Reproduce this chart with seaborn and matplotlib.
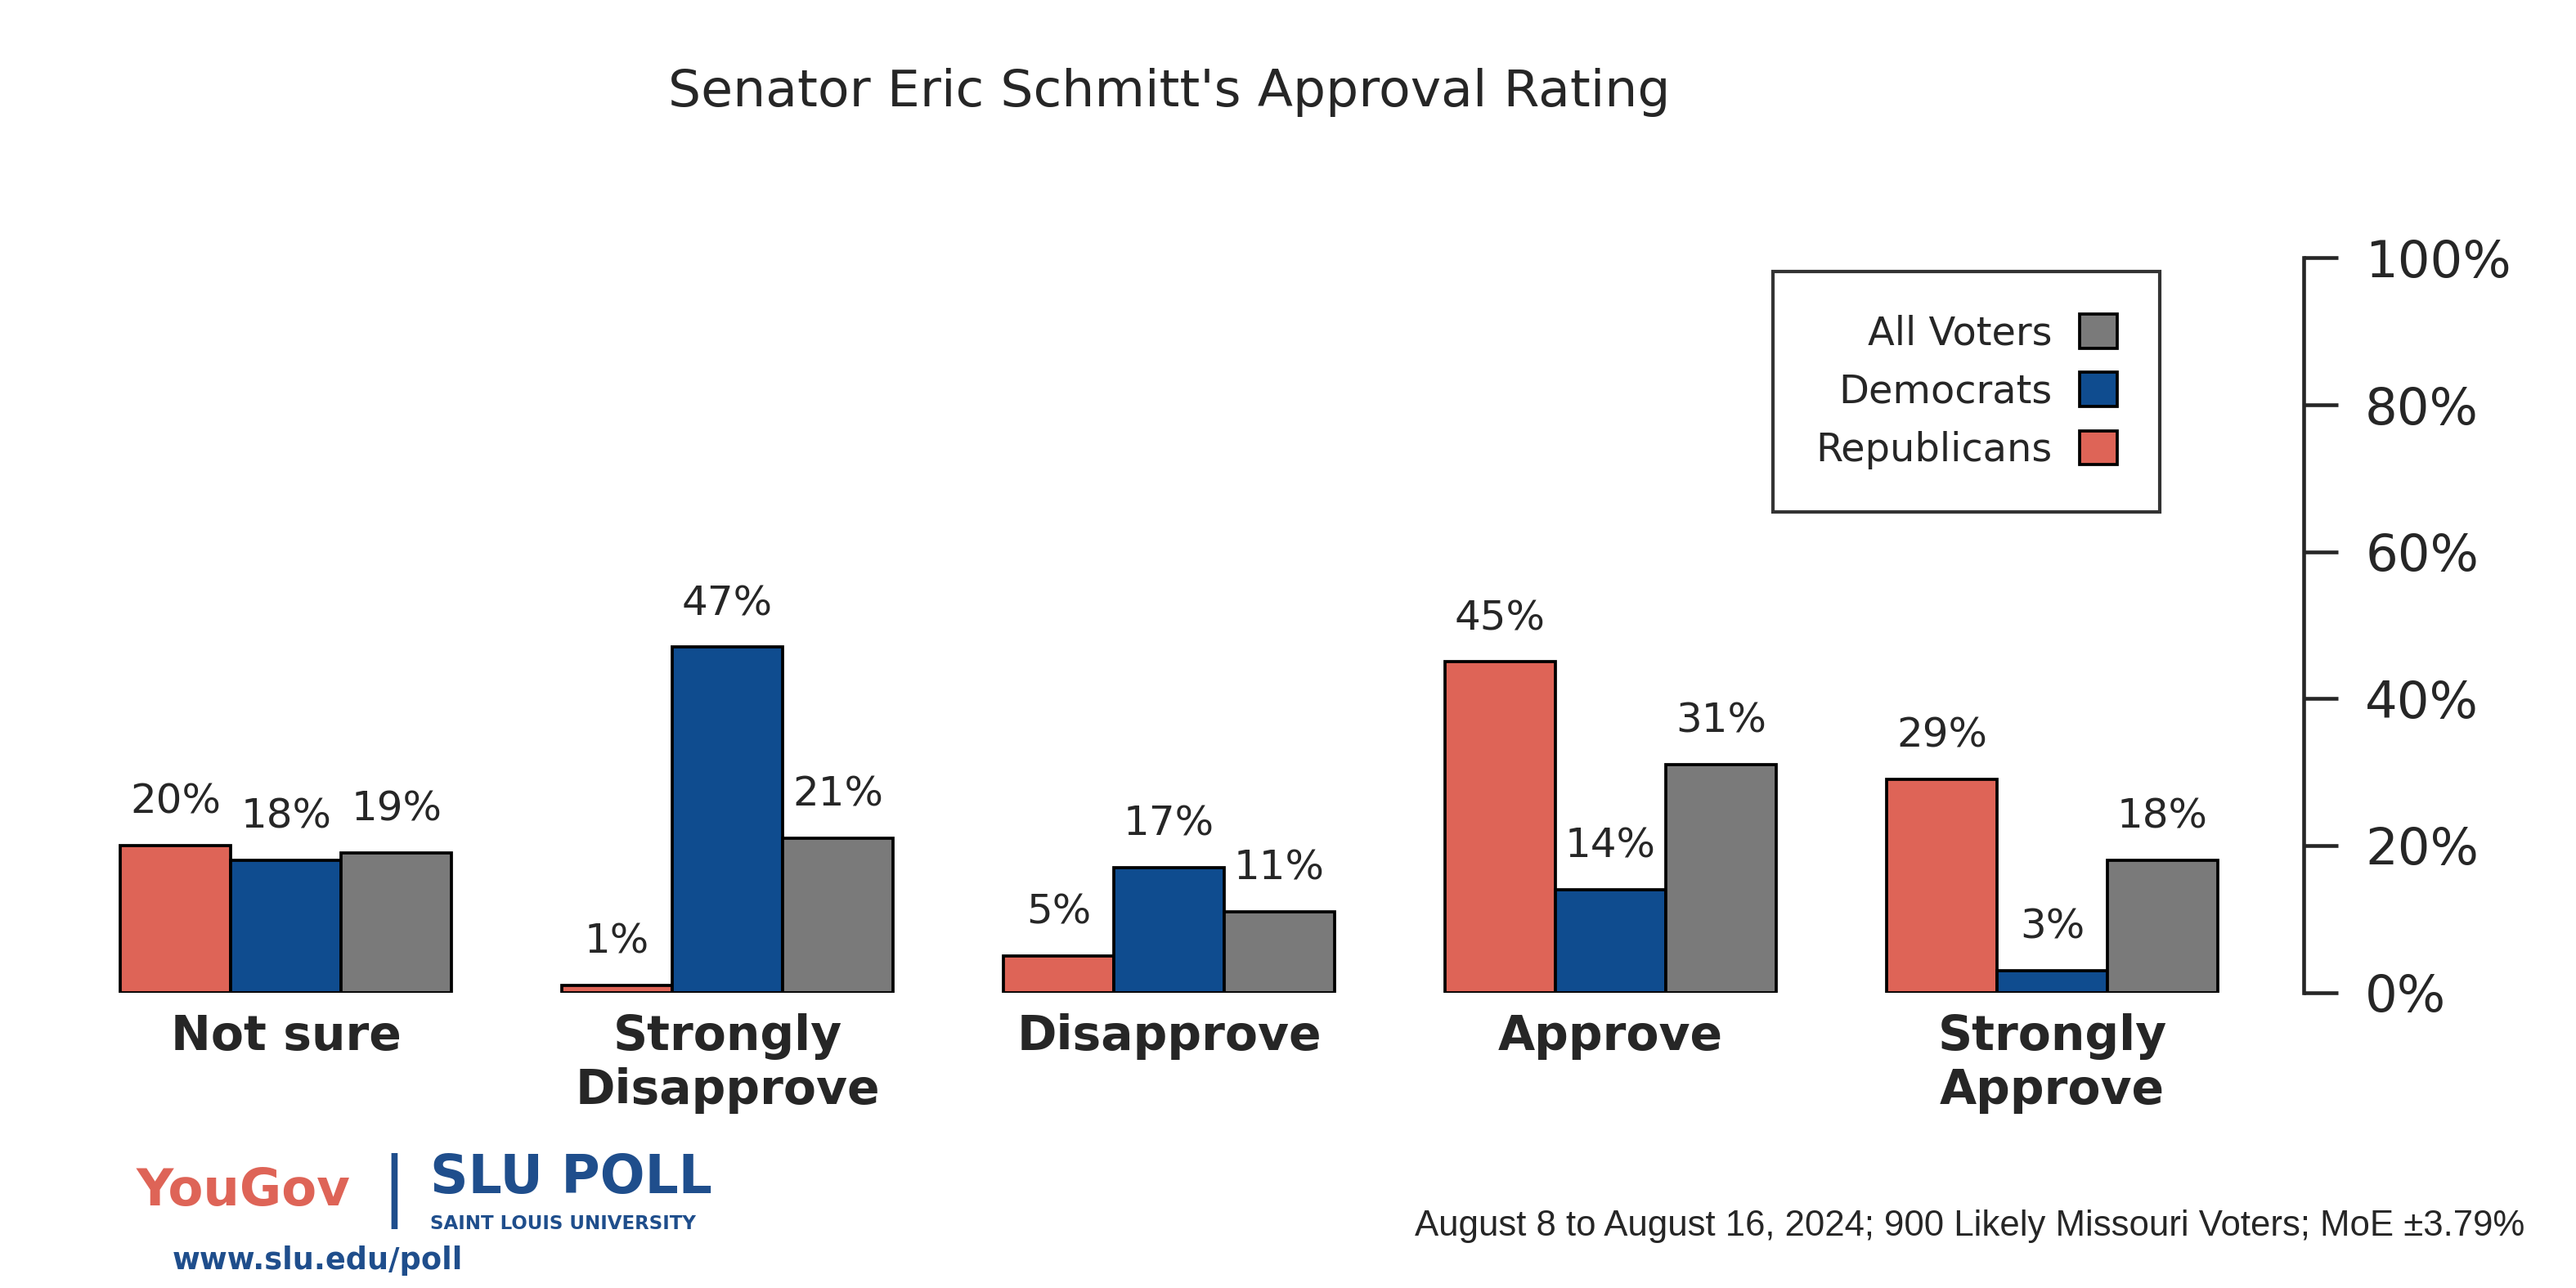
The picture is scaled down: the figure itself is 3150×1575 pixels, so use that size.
import pandas as pd
import matplotlib.pyplot as plt
import seaborn as sns

# categories as laid out left to right in the reference (mirrored layout)
categories = ["Not sure", "Strongly\nDisapprove", "Disapprove", "Approve", "Strongly\nApprove"]
groups = ["Republicans", "Democrats", "All Voters"]
republicans = [20, 1, 5, 45, 29]
democrats = [18, 47, 17, 14, 3]
all_voters = [19, 21, 11, 31, 18]
colors = {"Republicans": "#DE6457", "Democrats": "#0F4C8F", "All Voters": "#7A7A7A"}
y_ticks = [0, 20, 40, 60, 80, 100]

title = "Senator Eric Schmitt's Approval Rating"
footnote = "August 8 to August 16, 2024; 900 Likely Missouri Voters; MoE \u00b13.79%"

df = pd.DataFrame({
    "category": categories * 3,
    "group": ["Republicans"] * 5 + ["Democrats"] * 5 + ["All Voters"] * 5,
    "value": republicans + democrats + all_voters,
})

sns.set_style("white")
plt.rcParams["font.family"] = ["DejaVu Sans"]

fig = plt.figure(figsize=(10.5, 5.25), dpi=300)
ax = fig.add_axes([0.00816, 0.2295, 0.8862, 0.5702])

sns.barplot(data=df, x="category", y="value", hue="group", order=categories,
            hue_order=groups, palette=colors, width=0.75, edgecolor="black",
            linewidth=0.9, saturation=1, ax=ax, legend=False)

for cont, vals in zip(ax.containers, [republicans, democrats, all_voters]):
    ax.bar_label(cont, labels=[f"{v}%" for v in vals], padding=7, fontsize=12)

ax.set_xlim(-0.6, 4.57)
ax.set_ylim(0, 100)
ax.set_xlabel("")
ax.set_ylabel("")
ax.yaxis.tick_right()
ax.set_yticks(y_ticks)
ax.set_yticklabels([f"{t}%" for t in y_ticks], fontsize=15)
ax.tick_params(axis="y", length=10, width=1.1, pad=8, right=True, left=False)
ax.tick_params(axis="x", length=0, pad=6)
for lbl in ax.get_xticklabels():
    lbl.set_fontsize(14)
    lbl.set_fontweight("bold")
    lbl.set_verticalalignment("top")
for side in ["left", "top", "bottom"]:
    ax.spines[side].set_visible(False)
ax.spines["right"].set_linewidth(1.1)

# legend, entries listed top to bottom in reverse group order, markers on the right
handles = [plt.Rectangle((0, 0), 1, 1, facecolor=colors[g], edgecolor="black", linewidth=0.9)
           for g in reversed(groups)]
leg = ax.legend(handles, list(reversed(groups)), loc="upper right",
                bbox_to_anchor=(0.937, 0.982), markerfirst=False, frameon=True,
                fontsize=11.5, handlelength=0.95, handleheight=0.95, handletextpad=0.7,
                labelspacing=0.5, borderpad=1.1, borderaxespad=0, fancybox=False)
leg.get_frame().set_edgecolor("black")
leg.get_frame().set_linewidth(1.0)

fig.text(0.454, 0.928, title, ha="center", va="center", fontsize=15.2, fontweight="medium")
fig.text(0.980, 0.048, footnote, ha="right", va="center", fontsize=10.5,
         family="Liberation Sans")

# poll branding
fig.text(0.136, 0.075, "YouGov", ha="right", va="center", fontsize=15,
         color="#DE6457", fontweight="bold")
fig.text(0.153, 0.075, "|", ha="center", va="center", fontsize=22, color="#1F4E8C")
fig.text(0.167, 0.085, "SLU POLL", ha="left", va="center", fontsize=15.5,
         color="#1F4E8C", fontweight="bold")
fig.text(0.167, 0.050, "SAINT LOUIS UNIVERSITY", ha="left", va="center", fontsize=5.5,
         color="#1F4E8C", fontweight="bold")
fig.text(0.067, 0.021, "www.slu.edu/poll", ha="left", va="center", fontsize=8.8,
         color="#1F4E8C", fontweight="bold")

fig.savefig("out.png", dpi=300, facecolor="white")
